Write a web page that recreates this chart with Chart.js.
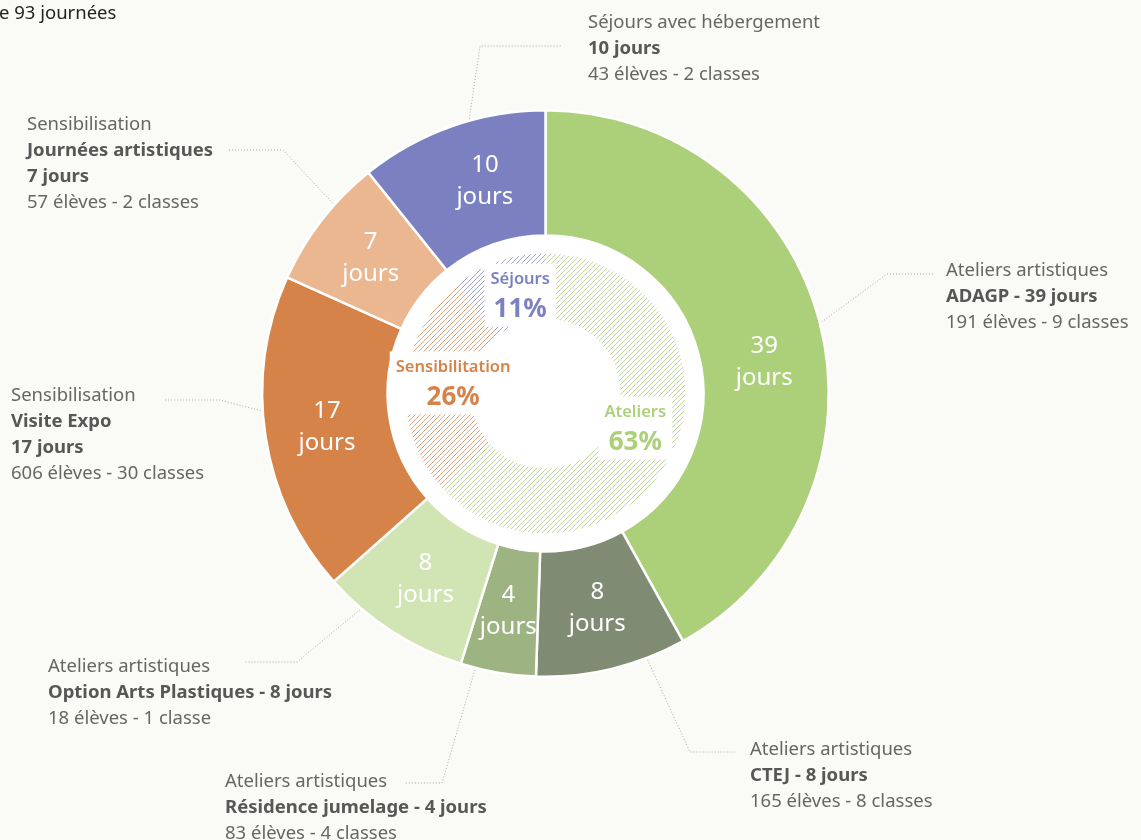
<!DOCTYPE html>
<html lang="fr">
<head>
<meta charset="UTF-8">
<title>Répartition des 93 journées</title>
<script src="https://cdn.jsdelivr.net/npm/chart.js"></script>
<style>
    html, body { margin: 0; padding: 0; background: #fafbf7; }
    #wrap { width: 1141px; height: 840px; position: relative; }
</style>
</head>
<body>
<div id="wrap"><canvas id="donut"></canvas></div>
<script>
// actions (outer ring), clockwise from the top
const groups = ['Ateliers artistiques', 'Ateliers artistiques', 'Ateliers artistiques', 'Ateliers artistiques',
                'Sensibilisation', 'Sensibilisation', 'Séjours avec hébergement'];
const names = ['ADAGP', 'CTEJ', 'Résidence jumelage', 'Option Arts Plastiques', 'Visite Expo', 'Journées artistiques', ''];
const days = [39, 8, 4, 8, 17, 7, 10];
const eleves = [191, 165, 83, 18, 606, 57, 43];
const classes = [9, 8, 4, 1, 30, 2, 2];
const colors = ['#acd07a', '#7f8b72', '#9db482', '#d1e4b4', '#d6834a', '#eab791', '#7b80c0'];

// families (inner ring)
const familyLabels = ['Ateliers', 'Sensibilitation', 'Séjours'];
const familyDays = [59, 24, 10];
const familyColors = ['#acd07a', '#d6834a', '#7b80c0'];
const hatchColors = ['#acd07a', '#dc8f5c', '#868bc8'];

const total = days.reduce((a, b) => a + b, 0);
const FONT = '"Noto Sans", "Open Sans", sans-serif';

// callout placement: t = where on the slice the leader starts
const callouts = [
    { i: 0, x: 946, y: 270, t: 0.5, elbow: [887, 274], end: 933, style: 'inline' },
    { i: 1, x: 750, y: 749, t: 0.26, elbow: [690, 752], end: 736, style: 'inline' },
    { i: 2, x: 225, y: 781, t: 0.8, elbow: [442, 783], end: 405, style: 'inline' },
    { i: 3, x: 48, y: 666, t: 0.75, elbow: [297, 662], end: 245, style: 'inline' },
    { i: 4, x: 11, y: 395, t: 0.58, elbow: [220, 400], end: 165, style: 'split' },
    { i: 5, x: 27, y: 124, t: 0.65, elbow: [283, 150], end: 228, style: 'split' },
    { i: 6, x: 588, y: 22, t: 0.6, elbow: [480, 46], end: 562, style: 'split' }
];
// small manual nudges of the labels (radians, px)
const outerNudge = [0.11, 0, 0, 0, 0, 0, 0.06];
const innerNudge = [[-0.06, 96], [0.035, 93], [0.087, 102]];

function calloutLines(i, style) {
    const foot = eleves[i] + ' élèves - ' + classes[i] + (classes[i] > 1 ? ' classes' : ' classe');
    const out = [[groups[i], false]];
    if (style === 'inline') {
        out.push([names[i] + ' - ' + days[i] + ' jours', true]);
    } else {
        if (names[i]) out.push([names[i], true]);
        out.push([days[i] + ' jours', true]);
    }
    out.push([foot, false]);
    return out;
}

function pointAt(arc, angle, r) {
    return [arc.x + Math.cos(angle) * r, arc.y + Math.sin(angle) * r];
}

// diagonal hatching clipped to one arc of the inner ring
function hatchArc(ctx, arc, color) {
    const R = arc.outerRadius;
    const gap = 5;
    ctx.save();
    ctx.beginPath();
    ctx.arc(arc.x, arc.y, R, arc.startAngle, arc.endAngle);
    ctx.arc(arc.x, arc.y, arc.innerRadius, arc.endAngle, arc.startAngle, true);
    ctx.closePath();
    ctx.clip();
    ctx.strokeStyle = color;
    ctx.globalAlpha = 0.8;
    ctx.lineWidth = 1;
    ctx.beginPath();
    const y0 = arc.y - R, y1 = arc.y + R;
    for (let k = Math.floor((arc.x - R + y0) / gap) * gap; k <= arc.x + R + y1; k += gap) {
        ctx.moveTo(k - y0, y0);
        ctx.lineTo(k - y1, y1);
    }
    ctx.stroke();
    ctx.restore();
}

const decor = {
    id: 'decor',
    beforeDatasetsDraw(chart) {
        const ctx = chart.ctx;
        const a = chart.getDatasetMeta(0).data[0];
        ctx.save();
        ctx.fillStyle = '#ffffff';
        ctx.beginPath();
        ctx.arc(a.x, a.y, a.innerRadius, 0, Math.PI * 2);
        ctx.fill();
        ctx.restore();
    },
    afterDatasetsDraw(chart) {
        const ctx = chart.ctx;
        const outer = chart.getDatasetMeta(0).data;
        const inner = chart.getDatasetMeta(2).data;

        inner.forEach((arc, i) => hatchArc(ctx, arc, hatchColors[i]));

        ctx.save();
        ctx.textAlign = 'center';
        ctx.textBaseline = 'middle';

        // values on the outer ring
        ctx.fillStyle = '#ffffff';
        ctx.font = '24px ' + FONT;
        outer.forEach((arc, i) => {
            const mid = (arc.startAngle + arc.endAngle) / 2 + outerNudge[i];
            const [x, y] = pointAt(arc, mid, 221);
            ctx.fillText(String(days[i]), x, y - 16);
            ctx.fillText('jours', x, y + 16);
        });

        // family labels on the inner ring
        inner.forEach((arc, i) => {
            const mid = (arc.startAngle + arc.endAngle) / 2 + innerNudge[i][0];
            const [x, y] = pointAt(arc, mid, innerNudge[i][1]);
            const pct = Math.round(familyDays[i] / total * 100) + '%';
            ctx.font = '600 16.5px ' + FONT;
            const w1 = ctx.measureText(familyLabels[i]).width;
            ctx.font = 'bold 26px ' + FONT;
            const w2 = ctx.measureText(pct).width;
            const w = Math.max(w1, w2) + 12;
            ctx.fillStyle = '#ffffff';
            ctx.fillRect(x - w / 2, y - 31, w, 63);
            ctx.fillStyle = familyColors[i];
            ctx.font = '600 16.5px ' + FONT;
            ctx.fillText(familyLabels[i], x, y - 15);
            ctx.font = 'bold 26px ' + FONT;
            ctx.fillText(pct, x, y + 15);
        });

        // leaders
        ctx.strokeStyle = '#a8a8a8';
        ctx.lineWidth = 1;
        ctx.setLineDash([1, 2]);
        callouts.forEach(c => {
            const arc = outer[c.i];
            const ang = arc.startAngle + (arc.endAngle - arc.startAngle) * c.t;
            const [sx, sy] = pointAt(arc, ang, arc.outerRadius + 2);
            ctx.beginPath();
            ctx.moveTo(sx, sy);
            ctx.lineTo(c.elbow[0], c.elbow[1]);
            ctx.lineTo(c.end, c.elbow[1]);
            ctx.stroke();
        });
        ctx.setLineDash([]);

        // callout texts
        ctx.textAlign = 'left';
        callouts.forEach(c => {
            calloutLines(c.i, c.style).forEach((ln, k) => {
                ctx.font = (ln[1] ? 'bold ' : '') + '18.5px ' + FONT;
                ctx.fillStyle = ln[1] ? '#575757' : '#666666';
                ctx.fillText(ln[0], c.x, c.y + 1 + k * 25.8);
            });
        });

        // cropped heading
        ctx.font = '18.5px ' + FONT;
        ctx.fillStyle = '#222222';
        ctx.fillText('e ' + total + ' journées', -1, 14);
        ctx.restore();
    }
};

new Chart(document.getElementById('donut'), {
    type: 'doughnut',
    data: {
        labels: names,
        datasets: [
            {
                data: days,
                backgroundColor: colors,
                borderColor: '#ffffff',
                borderWidth: 2.5,
                weight: 125.5
            },
            {
                data: [1],
                backgroundColor: 'rgba(0,0,0,0)',
                borderWidth: 0,
                weight: 18
            },
            {
                data: familyDays,
                backgroundColor: 'rgba(0,0,0,0)',
                borderWidth: 0,
                weight: 65
            }
        ]
    },
    options: {
        responsive: true,
        maintainAspectRatio: false,
        animation: false,
        events: [],
        cutout: 75,
        layout: { padding: { top: 109, bottom: 162, left: 0, right: 50 } },
        plugins: {
            legend: { display: false },
            tooltip: { enabled: false }
        }
    },
    plugins: [decor]
});
</script>
</body>
</html>
